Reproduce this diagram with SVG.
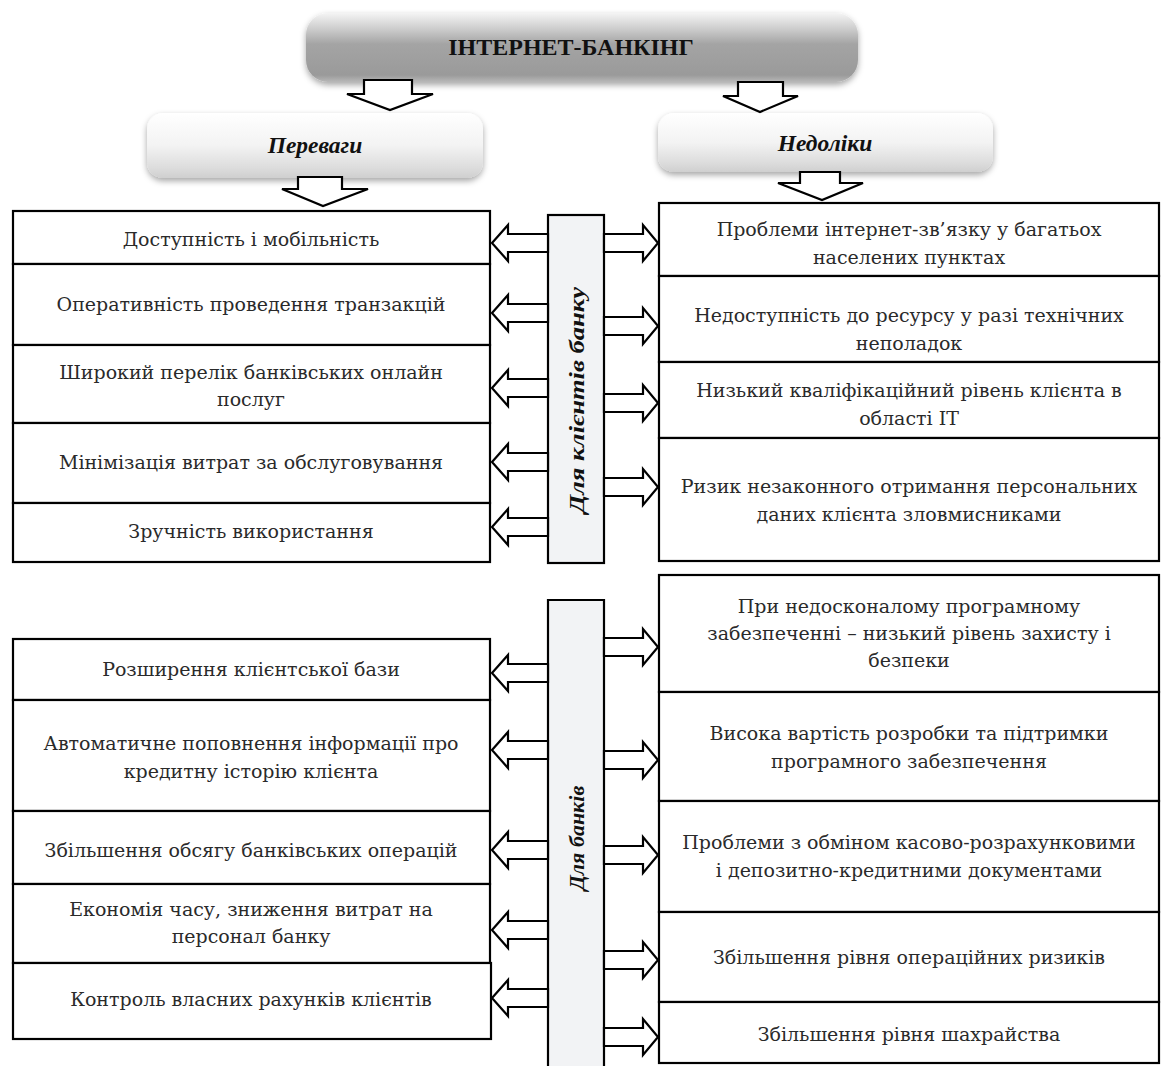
<svg xmlns="http://www.w3.org/2000/svg" width="1161" height="1066" viewBox="0 0 1161 1066">
<defs>
<linearGradient id="gTop" x1="0" y1="0" x2="0" y2="1">
<stop offset="0" stop-color="#f4f4f4"/>
<stop offset="0.25" stop-color="#c9c9c9"/>
<stop offset="0.45" stop-color="#a4a4a4"/>
<stop offset="0.9" stop-color="#9a9a9a"/>
<stop offset="1" stop-color="#b8b8b8"/>
</linearGradient>
<linearGradient id="gSub" x1="0" y1="0" x2="0" y2="1">
<stop offset="0" stop-color="#ffffff"/>
<stop offset="0.5" stop-color="#f3f3f3"/>
<stop offset="0.85" stop-color="#dcdcdc"/>
<stop offset="1" stop-color="#cfcfcf"/>
</linearGradient>
<filter id="sh" x="-10%" y="-20%" width="120%" height="150%">
<feDropShadow dx="0" dy="3" stdDeviation="3" flood-color="#000" flood-opacity="0.35"/>
</filter>
</defs>
<style>
.box{fill:#fff;stroke:#000;stroke-width:2.2}
.bar{fill:#f2f3f5;stroke:#000;stroke-width:2.2}
.arr{fill:#fff;stroke:#000;stroke-width:2.2;stroke-linejoin:miter}
.t{font-family:"DejaVu Serif","Liberation Serif",serif;font-size:19px;fill:#2a2a2a;text-anchor:middle}
.h{font-family:"Liberation Serif","Times New Roman",serif;font-weight:bold;fill:#111;text-anchor:middle}
.hi{font-family:"Liberation Serif","Times New Roman",serif;font-weight:bold;font-style:italic;fill:#111;text-anchor:middle}
</style>

<g id="banner">
<rect x="306" y="13" width="552" height="69" rx="22" fill="url(#gTop)" filter="url(#sh)"/>
<text class="h" x="571" y="55" font-size="24">ІНТЕРНЕТ-БАНКІНГ</text>
</g>
<g id="perevagy">
<rect x="147" y="113" width="336" height="65" rx="16" fill="url(#gSub)" filter="url(#sh)"/>
<text class="hi" x="315" y="153" font-size="23.5">Переваги</text>
</g>
<g id="nedoliky">
<rect x="658" y="113" width="335" height="59" rx="16" fill="url(#gSub)" filter="url(#sh)"/>
<text class="hi" x="825" y="151" font-size="23.5">Недоліки</text>
</g>

<g id="bar-clients">
<rect class="bar" x="548" y="215" width="56" height="348"/>
<text class="hi" font-size="22" textLength="226" lengthAdjust="spacingAndGlyphs" transform="translate(584,400) rotate(-90)">Для клієнтів банку</text>
</g>
<g id="bar-banks">
<path class="bar" d="M548,1068 V600 H604 V1068"/>
<text class="hi" font-size="22" transform="translate(584,838) rotate(-90)">Для банків</text>
</g>

<g id="adv-clients">
<rect class="box" x="13" y="211" width="477" height="53"/>
<text class="t" x="251" y="246">Доступність і мобільність</text>
<rect class="box" x="13" y="264" width="477" height="81"/>
<text class="t" x="251" y="311">Оперативність проведення транзакцій</text>
<rect class="box" x="13" y="345" width="477" height="78"/>
<text class="t" x="251" y="379">Широкий перелік банківських онлайн</text>
<text class="t" x="251" y="406">послуг</text>
<rect class="box" x="13" y="423" width="477" height="80"/>
<text class="t" x="251" y="469">Мінімізація  витрат за обслуговування</text>
<rect class="box" x="13" y="503" width="477" height="59"/>
<text class="t" x="251" y="538">Зручність використання</text>
</g>

<g id="dis-clients">
<rect class="box" x="659" y="203" width="500" height="73"/>
<text class="t" x="909" y="236">Проблеми інтернет-зв’язку у багатьох</text>
<text class="t" x="909" y="264">населених пунктах</text>
<rect class="box" x="659" y="276" width="500" height="86"/>
<text class="t" x="909" y="322">Недоступність до ресурсу у разі технічних</text>
<text class="t" x="909" y="350">неполадок</text>
<rect class="box" x="659" y="362" width="500" height="76"/>
<text class="t" x="909" y="397">Низький кваліфікаційний рівень клієнта в</text>
<text class="t" x="909" y="425">області IT</text>
<rect class="box" x="659" y="438" width="500" height="123"/>
<text class="t" x="909" y="493">Ризик незаконного отримання персональних</text>
<text class="t" x="909" y="521">даних клієнта зловмисниками</text>
</g>

<g id="adv-banks">
<rect class="box" x="13" y="639" width="477" height="61"/>
<text class="t" x="251" y="676">Розширення клієнтської бази</text>
<rect class="box" x="13" y="700" width="477" height="111"/>
<text class="t" x="251" y="750">Автоматичне поповнення інформації про</text>
<text class="t" x="251" y="778">кредитну історію клієнта</text>
<rect class="box" x="13" y="811" width="477" height="73"/>
<text class="t" x="251" y="857">Збільшення обсягу банківських операцій</text>
<rect class="box" x="13" y="884" width="477" height="79"/>
<text class="t" x="251" y="916">Економія часу, зниження витрат на</text>
<text class="t" x="251" y="943">персонал банку</text>
<rect class="box" x="13" y="963" width="478" height="76"/>
<text class="t" x="251" y="1006">Контроль власних рахунків клієнтів</text>
</g>

<g id="dis-banks">
<rect class="box" x="659" y="575" width="500" height="117"/>
<text class="t" x="909" y="613">При недосконалому програмному</text>
<text class="t" x="909" y="640">забезпеченні – низький рівень захисту і</text>
<text class="t" x="909" y="667">безпеки</text>
<rect class="box" x="659" y="692" width="500" height="109"/>
<text class="t" x="909" y="740">Висока вартість розробки та підтримки</text>
<text class="t" x="909" y="768">програмного забезпечення</text>
<rect class="box" x="659" y="801" width="500" height="111"/>
<text class="t" x="909" y="849">Проблеми з обміном касово-розрахунковими</text>
<text class="t" x="909" y="877">і депозитно-кредитними документами</text>
<rect class="box" x="659" y="912" width="500" height="90"/>
<text class="t" x="909" y="964">Збільшення рівня операційних ризиків</text>
<rect class="box" x="659" y="1002" width="500" height="61"/>
<text class="t" x="909" y="1041">Збільшення рівня шахрайства</text>
</g>

<g id="connectors">
<polygon class="arr" points="364,80 412,80 412,94 433,94 390,110 347,94 364,94"/>
<polygon class="arr" points="738,82 783,82 783,96 798,96 760,112 723,96 738,96"/>
<polygon class="arr" points="298,177 342,177 342,189 368,189 323,206 282,189 298,189"/>
<polygon class="arr" points="800,172 840,172 840,183 863,183 822,200 778,183 800,183"/>
<g transform="translate(0,243)"><polygon class="arr" points="548,-9 508,-9 508,-18 492,0 508,18 508,9 548,9"/></g>
<g transform="translate(0,313)"><polygon class="arr" points="548,-9 508,-9 508,-18 492,0 508,18 508,9 548,9"/></g>
<g transform="translate(0,388)"><polygon class="arr" points="548,-9 508,-9 508,-18 492,0 508,18 508,9 548,9"/></g>
<g transform="translate(0,462)"><polygon class="arr" points="548,-9 508,-9 508,-18 492,0 508,18 508,9 548,9"/></g>
<g transform="translate(0,527)"><polygon class="arr" points="548,-9 508,-9 508,-18 492,0 508,18 508,9 548,9"/></g>
<g transform="translate(0,243)"><polygon class="arr" points="604,-9 643,-9 643,-18 658,0 643,18 643,9 604,9"/></g>
<g transform="translate(0,326)"><polygon class="arr" points="604,-9 643,-9 643,-18 658,0 643,18 643,9 604,9"/></g>
<g transform="translate(0,403)"><polygon class="arr" points="604,-9 643,-9 643,-18 658,0 643,18 643,9 604,9"/></g>
<g transform="translate(0,487)"><polygon class="arr" points="604,-9 643,-9 643,-18 658,0 643,18 643,9 604,9"/></g>
<g transform="translate(0,673)"><polygon class="arr" points="548,-9 508,-9 508,-18 492,0 508,18 508,9 548,9"/></g>
<g transform="translate(0,750)"><polygon class="arr" points="548,-9 508,-9 508,-18 492,0 508,18 508,9 548,9"/></g>
<g transform="translate(0,850)"><polygon class="arr" points="548,-9 508,-9 508,-18 492,0 508,18 508,9 548,9"/></g>
<g transform="translate(0,930)"><polygon class="arr" points="548,-9 508,-9 508,-18 492,0 508,18 508,9 548,9"/></g>
<g transform="translate(0,998)"><polygon class="arr" points="548,-9 508,-9 508,-18 492,0 508,18 508,9 548,9"/></g>
<g transform="translate(0,647)"><polygon class="arr" points="604,-9 643,-9 643,-18 658,0 643,18 643,9 604,9"/></g>
<g transform="translate(0,760)"><polygon class="arr" points="604,-9 643,-9 643,-18 658,0 643,18 643,9 604,9"/></g>
<g transform="translate(0,855)"><polygon class="arr" points="604,-9 643,-9 643,-18 658,0 643,18 643,9 604,9"/></g>
<g transform="translate(0,960)"><polygon class="arr" points="604,-9 643,-9 643,-18 658,0 643,18 643,9 604,9"/></g>
<g transform="translate(0,1037)"><polygon class="arr" points="604,-9 643,-9 643,-18 658,0 643,18 643,9 604,9"/></g>
</g>
</svg>
